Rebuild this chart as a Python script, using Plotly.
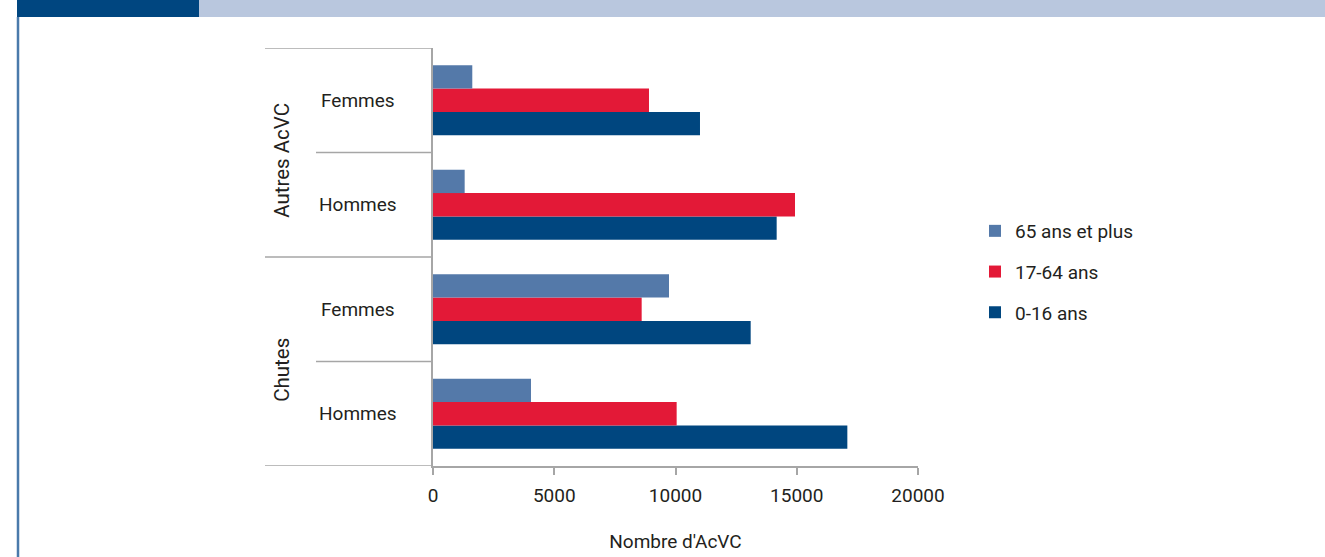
import plotly.graph_objects as go

# Data: number of AcVC by cause, sex and age group
causes = ["Chutes", "Chutes", "Autres AcVC", "Autres AcVC"]
sexes = ["Hommes", "Femmes", "Hommes", "Femmes"]
age_0_16 = [17086, 13100, 14172, 11010]
age_17_64 = [10048, 8605, 14928, 8907]
age_65_plus = [4041, 9732, 1306, 1620]
series_names = ["0-16 ans", "17-64 ans", "65 ans et plus"]
x_ticks = [0, 5000, 10000, 15000, 20000]
x_title = "Nombre d'AcVC"

colors = ["#00467f", "#e31937", "#5479a9"]
FONT = "Liberation Sans Narrow, Roboto, Arial Narrow, sans-serif"
TXT = "#231f20"
GRID = "#a6a6a6"

W, H = 1325, 557
ML, MR, MT, MB = 433, 407, 48, 91
PW, PH = W - ML - MR, H - MT - MB


def px_x(x):
    return (x - ML) / PW


def px_y(y):
    return (H - MB - y) / PH


cats = [f"{c}|{s}" for c, s in zip(causes, sexes)]

fig = go.Figure()
for i, (name, vals) in enumerate(zip(series_names, [age_0_16, age_17_64, age_65_plus])):
    fig.add_trace(go.Bar(
        y=cats, x=vals, name=name, orientation="h",
        marker=dict(color=colors[i], line=dict(width=0)),
        legendgroup=name, legendrank=len(series_names) - i,
    ))

fig.update_layout(
    width=W, height=H,
    margin=dict(l=ML, r=MR, t=MT, b=MB, autoexpand=False),
    paper_bgcolor="white", plot_bgcolor="white",
    barmode="group", bargap=0.33, bargroupgap=0,
    font=dict(family=FONT, size=18, color=TXT),
    showlegend=True,
    legend=dict(
        x=px_x(975), y=px_y(212), xanchor="left", yanchor="top",
        traceorder="grouped", tracegroupgap=13,
        font=dict(family=FONT, size=19, color=TXT),
        bgcolor="rgba(0,0,0,0)",
    ),
    xaxis=dict(
        range=[0, 20000], tickvals=x_ticks, ticktext=[str(v) for v in x_ticks],
        showgrid=False, zeroline=False, showline=True, linecolor=GRID, linewidth=1.5,
        ticks="outside", ticklen=7, tickcolor=GRID, tickwidth=1.5,
        ticklabelstandoff=4, automargin=False,
        tickfont=dict(family=FONT, size=19, color=TXT),
        title=dict(text=x_title, font=dict(family=FONT, size=19, color=TXT), standoff=29),
        fixedrange=True,
    ),
    yaxis=dict(
        categoryorder="array", categoryarray=cats, range=[-0.5, 3.5],
        showticklabels=False, showgrid=False, zeroline=False,
        showline=True, linecolor=GRID, linewidth=1.5, ticks="",
        automargin=False, fixedrange=True,
    ),
)

shapes = []
# Header bands
shapes.append(dict(type="rect", xref="paper", yref="paper", x0=px_x(17), x1=px_x(199),
                   y0=px_y(17), y1=px_y(0), fillcolor="#004680", line=dict(width=0), layer="above"))
shapes.append(dict(type="rect", xref="paper", yref="paper", x0=px_x(199), x1=px_x(1325),
                   y0=px_y(17), y1=px_y(0), fillcolor="#b9c7de", line=dict(width=0), layer="above"))
# Left frame line
shapes.append(dict(type="line", xref="paper", yref="paper", x0=px_x(18), x1=px_x(18),
                   y0=px_y(557), y1=px_y(17), line=dict(color="#4a7aab", width=2.5)))

# Category dividers on the y axis
for k in range(5):
    boundary = k - 0.5
    outer = k in (0, 2, 4)
    x_start = px_x(265) if outer else px_x(316)
    shapes.append(dict(type="line", xref="paper", yref="y", x0=x_start, x1=0,
                       y0=boundary, y1=boundary, line=dict(color=GRID, width=1.5)))
fig.update_layout(shapes=shapes)

annotations = []
for i, s in enumerate(sexes):
    annotations.append(dict(xref="paper", yref="y", x=px_x(358), y=i, text=s, showarrow=False,
                            xanchor="center", yanchor="middle",
                            font=dict(family=FONT, size=19, color=TXT)))
for grp in dict.fromkeys(causes):
    idx = [i for i, c in enumerate(causes) if c == grp]
    annotations.append(dict(xref="paper", yref="y", x=px_x(282), y=sum(idx) / len(idx) - 0.08,
                            text=grp, showarrow=False, textangle=-90,
                            xanchor="center", yanchor="middle",
                            font=dict(family=FONT, size=20.5, color=TXT)))
fig.update_layout(annotations=annotations)

fig.write_html("out.html")
